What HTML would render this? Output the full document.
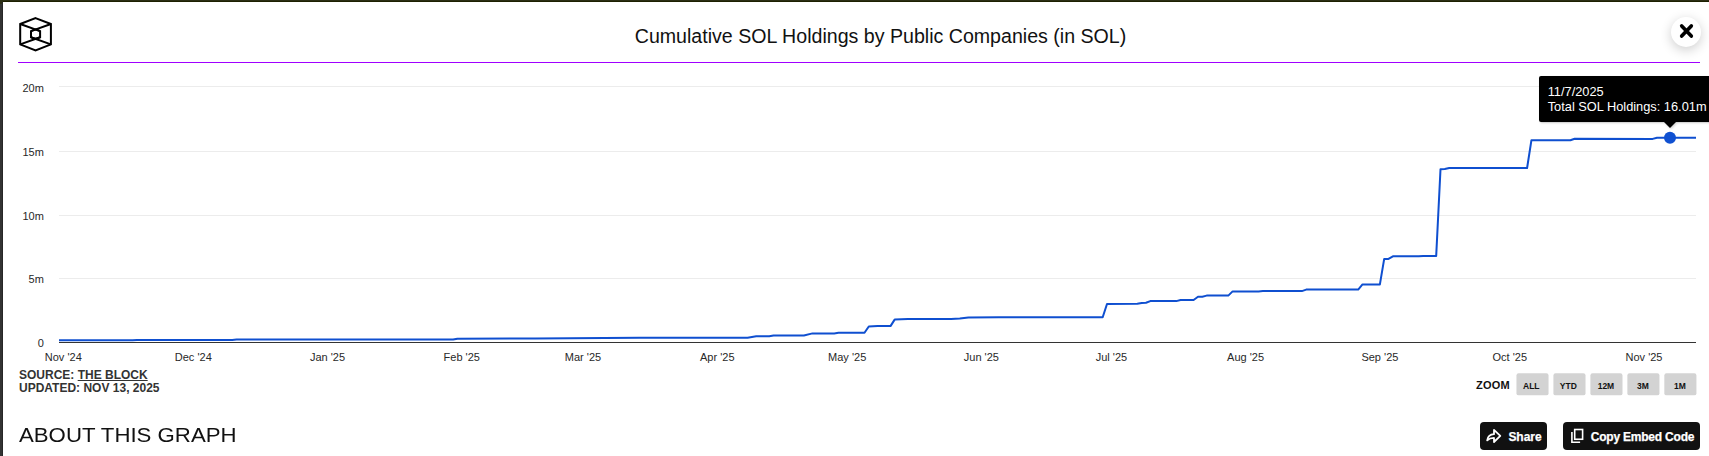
<!DOCTYPE html>
<html><head><meta charset="utf-8"><title>Cumulative SOL Holdings by Public Companies (in SOL)</title>
<style>
html,body{margin:0;padding:0;background:#fff;}
body{width:1709px;height:456px;position:relative;overflow:hidden;font-family:"Liberation Sans",Arial,sans-serif;color:#222;}
.abs{position:absolute;}
#bt{left:0;top:0;width:1709px;height:1px;background:#2b2e14;}
#bt2{left:3px;top:1px;width:1706px;height:1px;background:#1d2000;}
#bc{left:0;top:0;width:3px;height:4px;background:#2b2e14;}
#bl{left:0;top:4px;width:2px;height:452px;background:#333;}
#bl2{left:2px;top:2px;width:1px;height:454px;background:#272727;}
#title{left:380px;width:1001px;top:24px;text-align:center;font-size:19.6px;line-height:24px;color:#111;white-space:nowrap;}
#close{left:1671px;top:17px;width:30px;height:30px;border-radius:50%;background:#fff;box-shadow:0 3px 12px rgba(0,0,0,.2);}
#pl{left:18px;top:62px;width:1682px;height:1px;background:#a000ff;}
#chart{left:0;top:0;}
.btn text{font-size:12px;font-weight:bold;fill:#fff;stroke:#fff;stroke-width:.25px;font-family:"Liberation Sans",Arial,sans-serif;}
#zb text{font-size:8.5px;font-weight:bold;fill:#111;font-family:"Liberation Sans",Arial,sans-serif;}
#chart text{font-size:11px;fill:#282828;font-family:"Liberation Sans",Arial,sans-serif;}
#tip{left:1539px;top:76px;width:180px;height:46px;background:#000;border-radius:2px;box-shadow:1px 1px 2px rgba(0,0,0,.22);color:#fff;font-size:12.8px;line-height:15px;box-sizing:border-box;padding:8px 0 0 8.7px;white-space:nowrap;}
#tiparrow{left:1664px;top:122px;width:0;height:0;border-left:6px solid transparent;border-right:6px solid transparent;border-top:6px solid #000;filter:drop-shadow(1px 1px 1px rgba(0,0,0,.2));}
#src{left:19px;top:369.1px;font-size:12px;font-weight:bold;line-height:12.6px;color:#333;white-space:nowrap;}
#src u{text-decoration:underline;}
#about{left:19.1px;top:423.3px;font-size:20px;line-height:24px;color:#111;white-space:nowrap;transform:scaleX(1.11);transform-origin:0 0;}
#zoom{left:1475.9px;top:378.8px;font-size:11px;font-weight:bold;line-height:13px;color:#111;letter-spacing:.3px;}
.zb{position:absolute;top:373.4px;width:31.5px;height:21.8px;background:#d3d3d3;border-radius:2px;font-size:8.5px;font-weight:bold;line-height:24.7px;text-align:center;color:#111;box-sizing:border-box;padding-right:.6px;}
.btn{position:absolute;top:422px;height:28px;background:#111;border-radius:4px;color:#fff;font-size:12px;font-weight:bold;line-height:28px;white-space:nowrap;-webkit-text-stroke:.25px #fff;}
</style></head><body>
<div class="abs" id="bt"></div><div class="abs" id="bt2"></div><div class="abs" id="bc"></div><div class="abs" id="bl"></div><div class="abs" id="bl2"></div>
<svg class="abs" id="logo" style="left:16px;top:14px" width="40" height="40" viewBox="16 14 40 40" fill="none" stroke="#000" stroke-width="2" stroke-linejoin="miter">
<path d="M35.55 18.1 L50.9 24 L50.9 44.4 L35.55 50.5 L20.2 44.4 L20.2 24 Z"/>
<path d="M20.2 24 L40.1 31.1 M50.9 24 L31 31.1 M20.2 44.4 L40.1 37.3 M50.9 44.4 L31 37.3"/>
<path d="M35.6 29.3 L40.1 31.1 L40.1 37.3 L35.6 39 L31 37.3 L31 31.1 Z"/>
</svg>
<div class="abs" id="title">Cumulative SOL Holdings by Public Companies (in SOL)</div>
<div class="abs" id="close"><svg width="30" height="30" viewBox="0 0 30 30"><path d="M10.7 8.9 L20.3 19.1 M20.3 8.9 L10.7 19.1" stroke="#000" stroke-width="3.6" stroke-linecap="round" fill="none"/></svg></div>
<div class="abs" id="pl"></div>
<svg class="abs" id="chart" width="1709" height="370" viewBox="0 0 1709 370">
<rect x="59" y="86" width="1637" height="1" fill="#ececec"/><rect x="59" y="151" width="1637" height="1" fill="#ececec"/><rect x="59" y="215" width="1637" height="1" fill="#ececec"/><rect x="59" y="278" width="1637" height="1" fill="#ececec"/>
<rect x="59" y="342" width="1637" height="1" fill="#333"/>
<g><text x="43.9" y="92.0" text-anchor="end">20m</text><text x="43.9" y="156.0" text-anchor="end">15m</text><text x="43.9" y="220.0" text-anchor="end">10m</text><text x="43.9" y="283.0" text-anchor="end">5m</text><text x="43.9" y="347.0" text-anchor="end">0</text></g>
<g><text x="63.3" y="361" text-anchor="middle">Nov '24</text><text x="193.3" y="361" text-anchor="middle">Dec '24</text><text x="327.5" y="361" text-anchor="middle">Jan '25</text><text x="461.8" y="361" text-anchor="middle">Feb '25</text><text x="583.0" y="361" text-anchor="middle">Mar '25</text><text x="717.3" y="361" text-anchor="middle">Apr '25</text><text x="847.2" y="361" text-anchor="middle">May '25</text><text x="981.4" y="361" text-anchor="middle">Jun '25</text><text x="1111.4" y="361" text-anchor="middle">Jul '25</text><text x="1245.6" y="361" text-anchor="middle">Aug '25</text><text x="1379.9" y="361" text-anchor="middle">Sep '25</text><text x="1509.8" y="361" text-anchor="middle">Oct '25</text><text x="1644.0" y="361" text-anchor="middle">Nov '25</text></g>
<path d="M59.0 340.2 L132.6 340.2 L137.0 339.9 L232.2 339.9 L236.6 339.5 L453.1 339.6 L457.4 338.7 L535.4 338.4 L639.3 337.7 L747.6 337.7 L756.2 336.3 L769.2 336.3 L773.6 335.5 L803.9 335.5 L812.5 333.4 L834.2 333.4 L838.5 332.8 L864.5 332.8 L868.8 326.5 L877.5 326.1 L890.5 326.1 L894.8 319.4 L907.8 318.9 L951.1 318.9 L959.8 318.6 L968.4 317.5 L998.8 317.2 L1102.7 317.2 L1107.0 304.0 L1137.3 303.7 L1141.7 302.9 L1146.0 302.8 L1150.3 301.1 L1176.3 301.1 L1180.6 300.0 L1193.6 300.0 L1198.0 296.8 L1202.3 296.7 L1206.6 295.6 L1228.3 295.6 L1232.6 291.4 L1258.6 291.4 L1262.9 291.1 L1301.9 291.1 L1306.2 289.6 L1358.2 289.6 L1362.5 284.4 L1379.9 284.4 L1384.2 258.9 L1388.5 258.9 L1392.9 256.3 L1418.8 256.3 L1423.2 256.0 L1436.2 255.9 L1440.5 169.3 L1444.8 169.0 L1449.2 168.0 L1527.1 168.0 L1531.4 140.3 L1570.4 140.3 L1574.7 138.7 L1652.7 138.9 L1657.0 137.7 L1696.0 137.7" fill="none" stroke="#0f4fd0" stroke-width="2" stroke-linejoin="round" stroke-linecap="butt"/>
<circle cx="1670.0" cy="137.8" r="6" fill="#0f50d1"/>
</svg>
<div class="abs" id="tip">11/7/2025<br>Total SOL Holdings: 16.01m</div>
<div class="abs" id="tiparrow"></div>
<div class="abs" id="src">SOURCE: <u>THE BLOCK</u><br>UPDATED: NOV 13, 2025</div>
<div class="abs" id="zoom">ZOOM</div>
<svg class="abs" id="zb" style="left:1500px;top:365px" width="209" height="40" viewBox="1500 365 209 40">
<rect x="1516.45" y="373.35" width="32.1" height="22" rx="2.2" fill="#d3d3d3"/><text x="1531.30" y="388.9" text-anchor="middle">ALL</text><rect x="1553.42" y="373.35" width="32.1" height="22" rx="2.2" fill="#d3d3d3"/><text x="1568.27" y="388.9" text-anchor="middle">YTD</text><rect x="1590.39" y="373.35" width="32.1" height="22" rx="2.2" fill="#d3d3d3"/><text x="1605.94" y="388.9" text-anchor="middle">12M</text><rect x="1627.36" y="373.35" width="32.1" height="22" rx="2.2" fill="#d3d3d3"/><text x="1642.91" y="388.9" text-anchor="middle">3M</text><rect x="1664.33" y="373.35" width="32.1" height="22" rx="2.2" fill="#d3d3d3"/><text x="1680.03" y="388.9" text-anchor="middle">1M</text>
</svg>
<div class="abs" id="about">ABOUT THIS GRAPH</div>
<div class="btn" style="left:1480px;width:67px;"><svg style="position:absolute;left:0;top:0" width="67" height="28" viewBox="0 0 67 28" fill="none" stroke="#fff" stroke-width="1.8" stroke-linejoin="round"><path d="M14 7.9 L20.3 13.9 L14 20 V15.9 C11 15.9 9 16.5 7.2 18.3 C7.7 14.6 10.2 12.4 14 12.2 Z"/><text x="28.4" y="18.65" style="letter-spacing:-.03px">Share</text></svg></div>
<div class="btn" style="left:1563px;width:137px;"><svg style="position:absolute;left:0;top:0" width="137" height="28" viewBox="0 0 137 28" fill="none" stroke="#fff" stroke-width="1.6"><rect x="11.7" y="7.5" width="7.9" height="9.75"/><path d="M8.9 9.9 V20.2 H17.1"/><text x="27.7" y="18.65" style="letter-spacing:-.21px">Copy Embed Code</text></svg></div>
</body></html>
